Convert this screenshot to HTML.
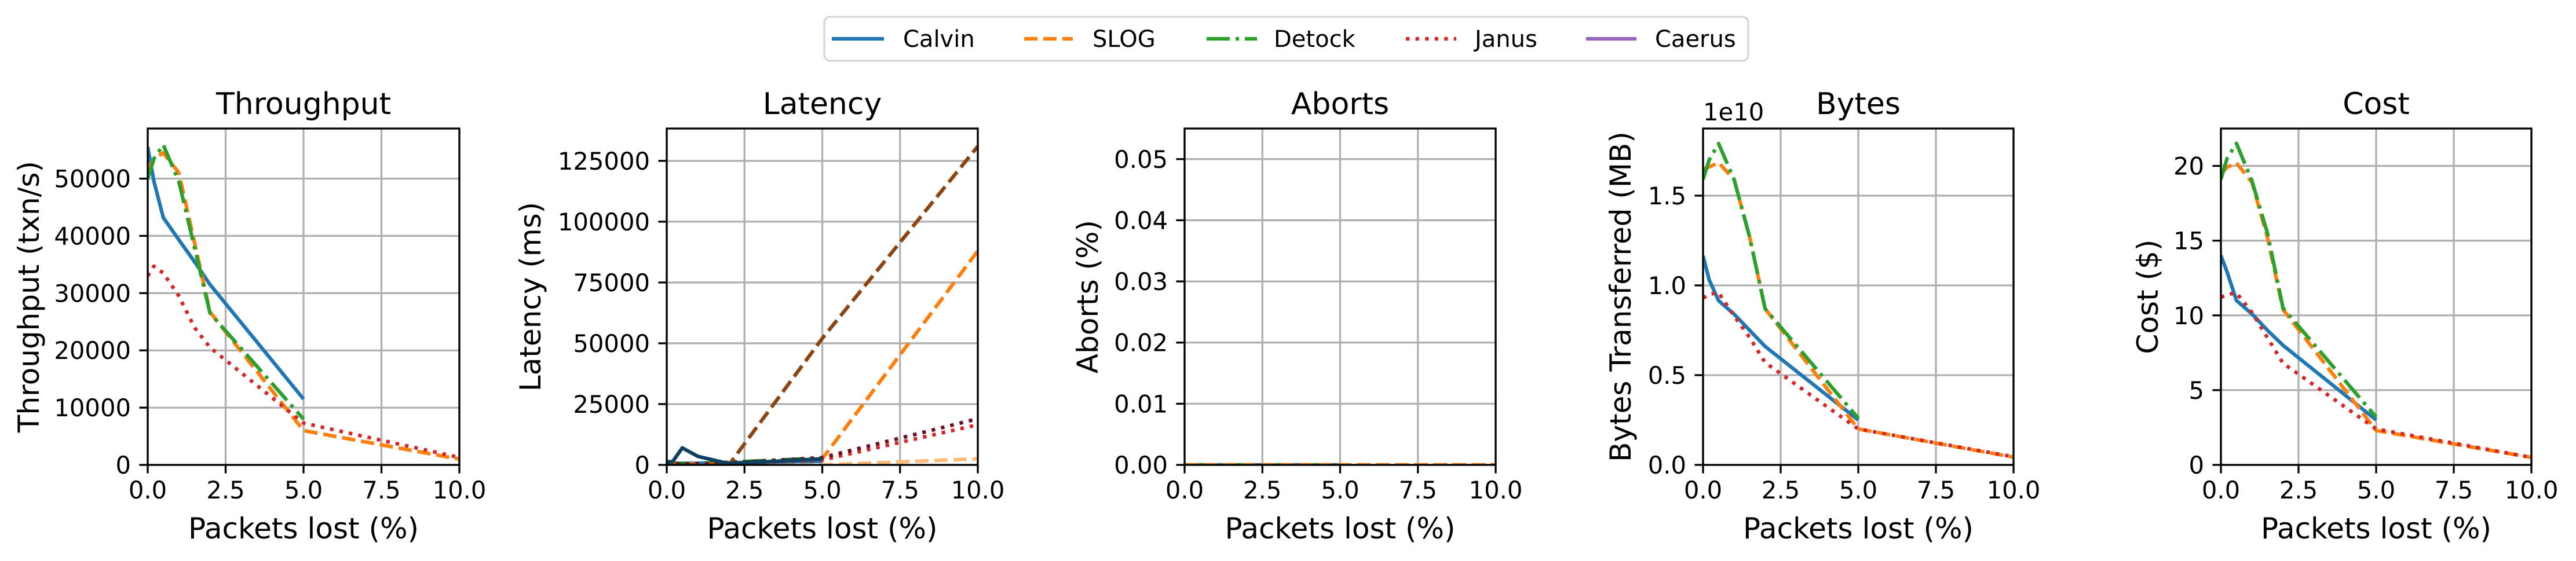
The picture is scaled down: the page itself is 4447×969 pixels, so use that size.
<!DOCTYPE html>
<html><head><meta charset="utf-8"><style>
html,body{margin:0;padding:0;background:#fff;}
svg{display:block;font-family:"DejaVu Sans","Liberation Sans",sans-serif;}
</style></head><body>
<svg id="fig" width="4447" height="969" viewBox="0 0 4447 969" xmlns="http://www.w3.org/2000/svg">
<g id="legend">
<rect x="1423" y="29" width="1595" height="76" rx="10" fill="#fff" stroke="#d6d6d6" stroke-width="3.3"/>
<line x1="1436" y1="67" x2="1526" y2="67" stroke="#1f77b4" stroke-width="6.25"/>
<text x="1559" y="81" font-size="40">Calvin</text>
<line x1="1768" y1="67" x2="1852" y2="67" stroke="#ff7f0e" stroke-width="6.25" stroke-dasharray="23,10"/>
<text x="1886" y="81" font-size="40">SLOG</text>
<line x1="2083" y1="67" x2="2170" y2="67" stroke="#2ca02c" stroke-width="6.25" stroke-dasharray="40,10,6,10"/>
<text x="2199" y="81" font-size="40">Detock</text>
<line x1="2427" y1="67" x2="2514" y2="67" stroke="#d62728" stroke-width="6.25" stroke-dasharray="6.25,10.3"/>
<text x="2546" y="81" font-size="40">Janus</text>
<line x1="2738" y1="67" x2="2825" y2="67" stroke="#9467bd" stroke-width="6.25"/>
<text x="2857" y="81" font-size="40">Caerus</text>
</g>
</svg>
<script>
const xs = [0, 0.2, 0.5, 1, 1.5, 2, 5, 10];
const xTicks = [0, 2.5, 5, 7.5, 10];
const xTickLabels = ["0.0", "2.5", "5.0", "7.5", "10.0"];

const tputCalvin = [55500, 49500, 43200, 39300, 35500, 31500, 11500, null];
const tputSlog = [51500, 53500, 54500, 51000, 38900, 26700, 6000, 1000];
const tputDetock = [50000, 53500, 55900, 49500, 38000, 26500, 8000, null];
const tputJanus = [33000, 34700, 33500, 29500, 24000, 20500, 7300, 1300];
const tputTicks = [0, 10000, 20000, 30000, 40000, 50000];

const latCalvin = [500, 500, 600, 700, 800, 900, 1500, null];
const latCalvinP99 = [1000, 1500, 7000, 3500, 2000, 500, 2500, null];
const latSlog = [300, 300, 300, 300, 300, 300, 2500, 88000];
const latSlogP99 = [0, 0, 0, 0, 0, 0, 52000, 131000];
const latSlogLow = [0, 0, 0, 0, 0, 0, 0, 2500];
const latDetock = [1500, 500, 400, 500, 700, 1000, 2500, null];
const latDetockP99 = [1500, 800, 500, 600, 800, 1100, 2800, null];
const latJanus = [300, 300, 300, 400, 500, 600, 2000, 16500];
const latJanusP99 = [300, 300, 300, 400, 500, 700, 3000, 19000];
const latTicks = [0, 25000, 50000, 75000, 100000, 125000];

const abortCalvin = [0, 0, 0, 0, 0, 0, 0, null];
const abortSlog = [0, 0, 0, 0, 0, 0, 0, 0];
const abortDetock = [0, 0, 0, 0, 0, 0, 0, null];
const abortJanus = [0, 0, 0, 0, 0, 0, 0, 0];
const abortTicks = [0, 0.01, 0.02, 0.03, 0.04, 0.05];

const bytesCalvin = [1.165, 1.03, 0.915, 0.84, 0.75, 0.66, 0.25, null];
const bytesSlog = [1.65, 1.66, 1.684, 1.59, 1.27, 0.87, 0.2, 0.043];
const bytesDetock = [1.59, 1.70, 1.79, 1.59, 1.27, 0.87, 0.26, null];
const bytesJanus = [0.93, 0.95, 0.96, 0.83, 0.71, 0.57, 0.2, 0.045];
const bytesTicks = [0, 0.5, 1.0, 1.5];

const costCalvin = [14.0, 12.9, 11.0, 10.1, 9.0, 8.0, 3.0, null];
const costSlog = [19.5, 19.9, 20.2, 18.9, 15.2, 10.4, 2.3, 0.5];
const costDetock = [19.1, 20.5, 21.5, 19.0, 15.5, 10.5, 3.2, null];
const costJanus = [11.2, 11.4, 11.5, 10.2, 8.5, 6.8, 2.4, 0.5];
const costTicks = [0, 5, 10, 15, 20];

const NS = "http://www.w3.org/2000/svg";
const svg = document.getElementById("fig");
function mk(tag, attrs, parent){const e=document.createElementNS(NS,tag);for(const k in attrs)e.setAttribute(k,attrs[k]);(parent||svg).appendChild(e);return e;}
const DASH = {solid:null, dashed:"23,10", dashdot:"40,10,6,10", dotted:"6.25,10.3"};

function panel(o){
  const g = mk("g",{});
  
  
  const L=o.left,R=o.right,T=222,B=803;
  const sx = v => L + (v-0)/(10-0)*(R-L);
  const sy = v => B - v/o.ymax*(B-T);
  xTicks.forEach((t,i)=>{
    const gl = mk("line",{x1:sx(t),x2:sx(t),y1:T,y2:B,stroke:"#b0b0b0","stroke-width":3.3},g);
    
    
    mk("line",{x1:sx(t),x2:sx(t),y1:B,y2:B+14.6,stroke:"#000","stroke-width":3.3},g);
    const tl = mk("text",{x:sx(t),y:B+58,"font-size":41.7,"text-anchor":"middle"},g);
    tl.textContent = xTickLabels[i];
    
    
  });
  o.yticks.forEach((t,i)=>{
    const gl = mk("line",{x1:L,x2:R,y1:sy(t),y2:sy(t),stroke:"#b0b0b0","stroke-width":3.3},g);
    
    
    mk("line",{x1:L-14.6,x2:L,y1:sy(t),y2:sy(t),stroke:"#000","stroke-width":3.3},g);
    const tl = mk("text",{x:L-29,y:sy(t)+15,"font-size":41.7,"text-anchor":"end"},g);
    tl.textContent = o.ylabels[i];
    
    
  });
  const clip = "clip-"+o.name;
  const cp = mk("clipPath",{id:clip},g); mk("rect",{x:L,y:T,width:R-L,height:B-T},cp);
  o.series.forEach(s=>{
    let d="",started=false;
    s.vals.forEach((v,i)=>{ if(v===null){started=false;return;} d+=(started?"L":"M")+sx(xs[i]).toFixed(1)+","+sy(v).toFixed(1); started=true;});
    const p = mk("path",{d:d,fill:"none",stroke:s.color,"stroke-width":6.25,"clip-path":"url(#"+clip+")","stroke-linejoin":"round"},g);
    if(DASH[s.style]) p.setAttribute("stroke-dasharray",DASH[s.style]);
    
    
  });
  const fr = mk("rect",{x:L,y:T,width:R-L,height:B-T,fill:"none",stroke:"#000","stroke-width":3.3},g);
  
  
  const ti = mk("text",{x:(L+R)/2,y:197,"font-size":52,"text-anchor":"middle"},g);
  ti.textContent = o.title;
  
  
  const xl = mk("text",{x:(L+R)/2,y:930,"font-size":50,"text-anchor":"middle"},g);
  xl.textContent = "Packets lost (%)";
  
  
  const cy=(T+B)/2;
  const yl = mk("text",{x:o.ylx,y:cy,"font-size":50,"text-anchor":"middle",transform:"rotate(-90 "+o.ylx+" "+cy+")"},g);
  yl.textContent = o.ylabel;
  
  
  if(o.offset){
    const ot = mk("text",{x:L,y:208,"font-size":41.7},g);
    ot.textContent = o.offset;
    
    
  }
}
const C={b:"#1f77b4",o:"#ff7f0e",g:"#2ca02c",r:"#d62728"};
panel({name:"throughput",title:"Throughput",left:255,right:793,ymax:58750,yticks:tputTicks,ylabels:tputTicks.map(String),ylabel:"Throughput (txn/s)",ylx:67,
  series:[{name:"calvin-line",vals:tputCalvin,color:C.b,style:"solid"},{name:"slog-line",vals:tputSlog,color:C.o,style:"dashed"},{name:"detock-line",vals:tputDetock,color:C.g,style:"dashdot"},{name:"janus-line",vals:tputJanus,color:C.r,style:"dotted"}]});
panel({name:"latency",title:"Latency",left:1151,right:1688,ymax:138300,yticks:latTicks,ylabels:latTicks.map(String),ylabel:"Latency (ms)",ylx:933,
  series:[{name:"slog-low-line",vals:latSlogLow,color:"#ffbb78",style:"dashed"},{name:"calvin-line",vals:latCalvin,color:C.b,style:"solid"},{name:"detock-line",vals:latDetock,color:C.g,style:"dashdot"},{name:"detock-p99-line",vals:latDetockP99,color:"#1a6b1a",style:"dashdot"},{name:"slog-line",vals:latSlog,color:C.o,style:"dashed"},{name:"slog-p99-line",vals:latSlogP99,color:"#8b4513",style:"dashed"},{name:"janus-line",vals:latJanus,color:C.r,style:"dotted"},{name:"janus-p99-line",vals:latJanusP99,color:"#6b1020",style:"dotted"},{name:"calvin-p99-line",vals:latCalvinP99,color:"#0f4163",style:"solid"}]});
panel({name:"aborts",title:"Aborts",left:2045,right:2582,ymax:0.055,yticks:abortTicks,ylabels:abortTicks.map(v=>v.toFixed(2)),ylabel:"Aborts (%)",ylx:1895,
  series:[{name:"calvin-line",vals:abortCalvin,color:C.b,style:"solid"},{name:"detock-line",vals:abortDetock,color:C.g,style:"dashdot"},{name:"janus-line",vals:abortJanus,color:C.r,style:"dotted"},{name:"slog-line",vals:abortSlog,color:C.o,style:"dashed"}]});
panel({name:"bytes",title:"Bytes",left:2940,right:3476,ymax:1.874,yticks:bytesTicks,ylabels:bytesTicks.map(v=>v.toFixed(1)),ylabel:"Bytes Transferred (MB)",ylx:2815,offset:"1e10",
  series:[{name:"calvin-line",vals:bytesCalvin,color:C.b,style:"solid"},{name:"slog-line",vals:bytesSlog,color:C.o,style:"dashed"},{name:"detock-line",vals:bytesDetock,color:C.g,style:"dashdot"},{name:"janus-line",vals:bytesJanus,color:C.r,style:"dotted"}]});
panel({name:"cost",title:"Cost",left:3834,right:4370,ymax:22.5,yticks:costTicks,ylabels:costTicks.map(String),ylabel:"Cost ($)",ylx:3725,
  series:[{name:"calvin-line",vals:costCalvin,color:C.b,style:"solid"},{name:"slog-line",vals:costSlog,color:C.o,style:"dashed"},{name:"detock-line",vals:costDetock,color:C.g,style:"dashdot"},{name:"janus-line",vals:costJanus,color:C.r,style:"dotted"}]});
</script>
</body></html>
